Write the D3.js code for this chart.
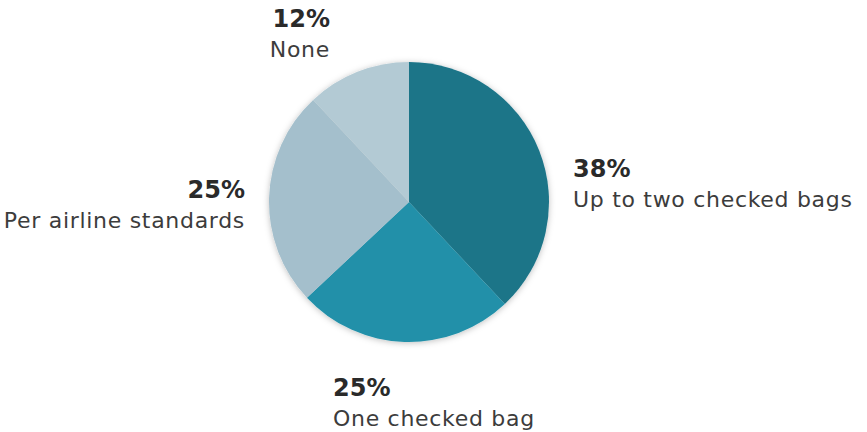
<!DOCTYPE html>
<html>
<head>
<meta charset="utf-8">
<script src="https://cdn.jsdelivr.net/npm/d3@7"></script>
<style>
  html, body { margin: 0; padding: 0; background: #ffffff; }
  svg { display: block; }
  .pct { font-family: "DejaVu Sans", sans-serif; font-weight: bold; font-size: 24px; fill: #2a2a2a; }
  .lbl { font-family: "DejaVu Sans", sans-serif; font-weight: normal; font-size: 22px; letter-spacing: 0.7px; fill: #3c3c3c; }
</style>
</head>
<body>
<script>
// Baggage allowance shares, clockwise from 12 o'clock
const categories = ["Up to two checked bags", "One checked bag", "Per airline standards", "None"];
const shares = [38, 25, 25, 12];
const colors = ["#1b7488", "#2190a9", "#a4bfcc", "#b3cad4"];

const width = 867, height = 432;
const cx = 409, cy = 202, radius = 140;

const svg = d3.select("body").append("svg")
  .attr("width", width).attr("height", height);

const defs = svg.append("defs");
const shadow = defs.append("filter").attr("id", "pieShadow")
  .attr("x", "-20%").attr("y", "-20%").attr("width", "140%").attr("height", "140%");
shadow.append("feDropShadow")
  .attr("dx", 0).attr("dy", 1).attr("stdDeviation", 3)
  .attr("flood-color", "#000").attr("flood-opacity", 0.25);

const pie = d3.pie().sort(null).value(d => d.value);
const arc = d3.arc().innerRadius(0).outerRadius(radius);

const data = categories.map((c, i) => ({ name: c, value: shares[i], color: colors[i] }));
const arcs = pie(data);

const g = svg.append("g").attr("transform", `translate(${cx},${cy})`)
  .attr("filter", "url(#pieShadow)");

g.selectAll("path").data(arcs).join("path")
  .attr("d", arc)
  .attr("fill", d => d.data.color);

// Label placement for each slice, relative to the pie centre
const labelLayout = [
  { dx: 164, dy: -25, anchor: "start" },
  { dx: -76, dy: 194, anchor: "start" },
  { dx: -164, dy: -4, anchor: "end" },
  { dx: -79, dy: -175, anchor: "end" }
];

const labels = svg.append("g");
arcs.forEach((a, i) => {
  const L = labelLayout[i];
  const t = labels.append("g").attr("transform", `translate(${cx + L.dx},${cy + L.dy})`);
  t.append("text").attr("class", "pct").attr("text-anchor", L.anchor)
    .text(a.data.value + "%");
  t.append("text").attr("class", "lbl").attr("text-anchor", L.anchor)
    .attr("y", 30).text(a.data.name);
});
</script>
</body>
</html>
